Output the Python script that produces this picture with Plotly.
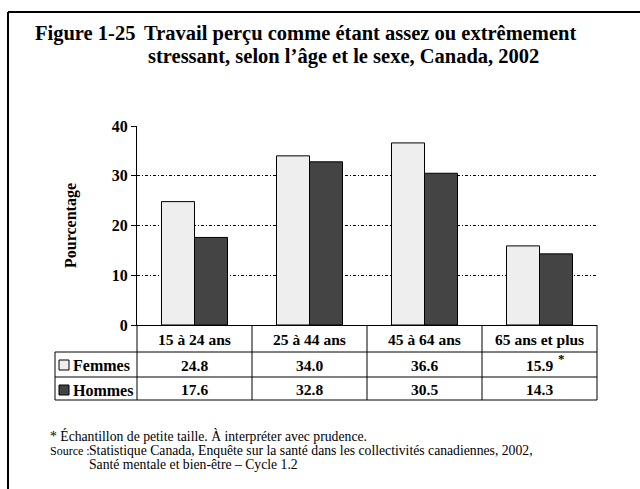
import plotly.graph_objects as go

categories = ["15 à 24 ans", "25 à 44 ans", "45 à 64 ans", "65 ans et plus"]
femmes = [24.8, 34.0, 36.6, 15.9]
hommes = [17.6, 32.8, 30.5, 14.3]
femmes_flag = ["", "", "", "*"]
hommes_flag = ["", "", "", ""]
series_names = ["Femmes", "Hommes"]
y_ticks = [0, 10, 20, 30, 40]

title_lead = "Figure 1-25"
title_line1 = "Travail perçu comme étant assez ou extrêmement"
title_line2 = "stressant, selon l’âge et le sexe, Canada, 2002"
y_title = "Pourcentage"
note_text = "* Échantillon de petite taille. À interpréter avec prudence."
source_lead = "Source :"
source_line1 = "Statistique Canada, Enquête sur la santé dans les collectivités canadiennes, 2002,"
source_line2 = "Santé mentale et bien-être – Cycle 1.2"

W, H = 640, 489
L, R, T, B = 137, 597, 126, 325
SERIF = "Liberation Serif, Times New Roman, serif"
light = "#eeeeee"
dark = "#444444"


def px(x):
    return (x - L) / (R - L)


def py(y):
    return (B - y) / (B - T)


fig = go.Figure()
fig.add_trace(go.Bar(x=categories, y=femmes, name=series_names[0],
                     marker=dict(color=light, line=dict(color="black", width=1))))
fig.add_trace(go.Bar(x=categories, y=hommes, name=series_names[1],
                     marker=dict(color=dark, line=dict(color="black", width=1))))

shapes = []
# outer frame
shapes.append(dict(type="line", xref="paper", yref="paper", x0=px(8), x1=px(641), y0=py(12), y1=py(12),
                   line=dict(color="black", width=2)))
shapes.append(dict(type="line", xref="paper", yref="paper", x0=px(8), x1=px(8), y0=py(12), y1=py(490),
                   line=dict(color="black", width=2)))
# table lines
row_lines = [352, 377, 400]
for yy in row_lines:
    shapes.append(dict(type="line", xref="paper", yref="paper", x0=px(55), x1=px(R), y0=py(yy), y1=py(yy),
                       line=dict(color="black", width=1)))
shapes.append(dict(type="line", xref="paper", yref="paper", x0=px(55), x1=px(55), y0=py(352), y1=py(400),
                   line=dict(color="black", width=1)))
for k in range(len(categories) + 1):
    xx = L + k * (R - L) / len(categories)
    shapes.append(dict(type="line", xref="paper", yref="paper", x0=px(xx), x1=px(xx), y0=py(B), y1=py(400),
                       line=dict(color="black", width=1)))
# legend swatches
shapes.append(dict(type="rect", xref="paper", yref="paper", x0=px(59), x1=px(69), y0=py(360), y1=py(370),
                   fillcolor=light, line=dict(color="black", width=1)))
shapes.append(dict(type="rect", xref="paper", yref="paper", x0=px(59), x1=px(69), y0=py(385), y1=py(395),
                   fillcolor=dark, line=dict(color="black", width=1)))


def note(text, x, y, size, bold=False, xanchor="left", xref="paper", xshift=0, angle=0):
    t = "<b>" + text + "</b>" if bold else text
    return dict(text=t, x=x, y=py(y), xref=xref, yref="paper", xanchor=xanchor, yanchor="middle",
                xshift=xshift, textangle=angle, showarrow=False,
                font=dict(family=SERIF, size=size, color="black"))


ann = []
ann.append(note(title_lead, px(33), 33, 20.5, bold=True))
ann.append(note(title_line1, px(142), 33, 20.5, bold=True))
ann.append(note(title_line2, px(146), 57, 20.5, bold=True))
ann.append(note(y_title, px(71), 226, 16, bold=True, xanchor="center", angle=-90))
for i, c in enumerate(categories):
    ann.append(note(c, c, 339, 15.5, bold=True, xanchor="center", xref="x"))
    ann.append(note("%.1f" % femmes[i], c, 365, 15.5, bold=True, xanchor="center", xref="x"))
    ann.append(note("%.1f" % hommes[i], c, 389, 15.5, bold=True, xanchor="center", xref="x"))
    if femmes_flag[i]:
        ann.append(note(femmes_flag[i], c, 358, 13, bold=True, xanchor="center", xref="x", xshift=22))
    if hommes_flag[i]:
        ann.append(note(hommes_flag[i], c, 382, 13, bold=True, xanchor="center", xref="x", xshift=22))
ann.append(note(series_names[0], px(71), 365.5, 16, bold=True))
ann.append(note(series_names[1], px(71), 390, 16, bold=True))
ann.append(note(note_text, px(48), 435.5, 13.7))
ann.append(note(source_lead, px(48), 451, 12))
ann.append(note(source_line1, px(87), 451, 13.7))
ann.append(note(source_line2, px(87), 464.5, 13.7))

fig.update_layout(
    width=W, height=H,
    margin=dict(l=L, r=W - R, t=T, b=H - B, pad=0),
    paper_bgcolor="white", plot_bgcolor="white",
    barmode="group", bargap=0.426, bargroupgap=0,
    showlegend=False,
    shapes=shapes, annotations=ann,
    font=dict(family=SERIF, color="black"),
)
fig.update_xaxes(showticklabels=False, ticks="", showgrid=False, showline=True, linecolor="black",
                 linewidth=1, zeroline=False)
fig.update_yaxes(range=[0, 40], tickvals=y_ticks, ticktext=["<b>%d</b>" % v for v in y_ticks],
                 tickfont=dict(family=SERIF, size=16, color="black"),
                 ticks="outside", ticklen=5, tickcolor="black", showline=True, linecolor="black",
                 linewidth=1, showgrid=True, gridcolor="black", gridwidth=1,
                 griddash="3px,2px,1px,2px", zeroline=False)

fig.write_html("out.html", config={"displayModeBar": False},
               post_script="document.body.style.margin='0px';document.body.style.overflow='hidden';")
